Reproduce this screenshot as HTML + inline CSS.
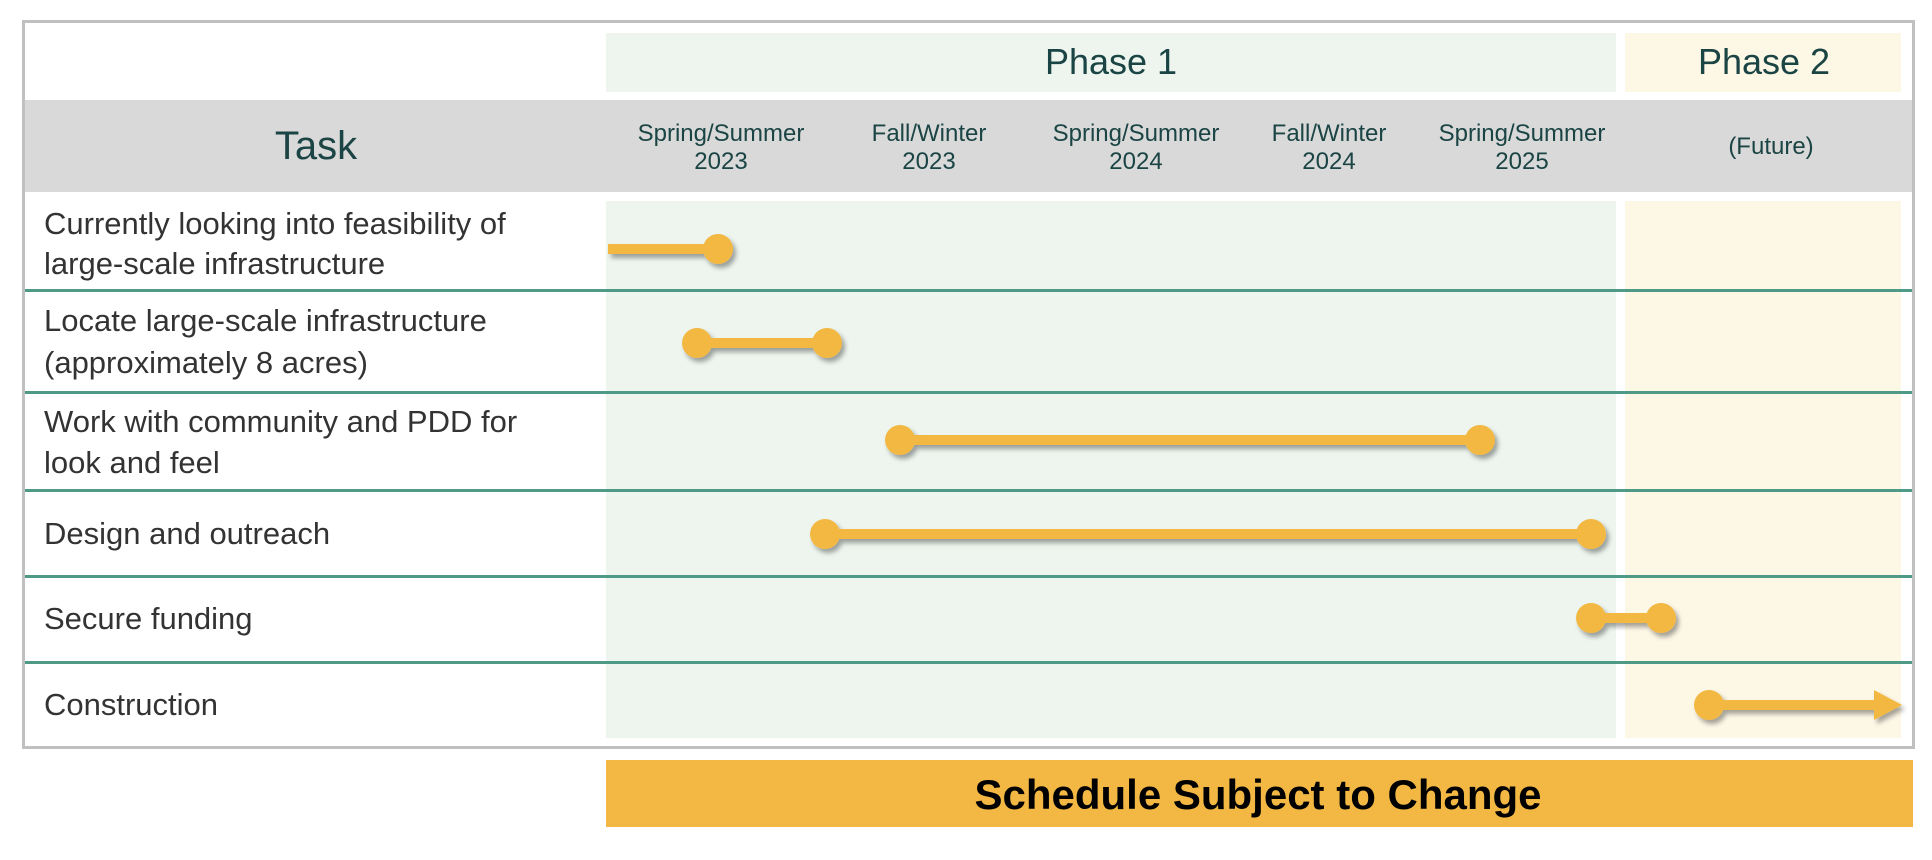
<!DOCTYPE html>
<html><head><meta charset="utf-8"><style>
html,body{margin:0;padding:0;background:#fff;}
svg{display:block;}
text{font-family:"Liberation Sans",sans-serif;}
</style></head><body>
<svg width="1932" height="860" viewBox="0 0 1932 860" xmlns="http://www.w3.org/2000/svg">
<defs>
<filter id="sh" x="-20%" y="-50%" width="140%" height="250%">
<feDropShadow dx="3" dy="4" stdDeviation="2.5" flood-color="#000" flood-opacity="0.35"/>
</filter>
</defs>
<rect x="0" y="0" width="1932" height="860" fill="#fff"/>
<rect x="606" y="33" width="1010" height="59" fill="#edf5ee"/>
<rect x="1625" y="33" width="276" height="59" fill="#fdf7e6"/>
<text x="1111" y="74" font-size="36" fill="#1b4444" text-anchor="middle">Phase 1</text>
<text x="1764" y="74" font-size="36" fill="#1b4444" text-anchor="middle">Phase 2</text>
<rect x="22" y="100" width="1893" height="92" fill="#d9d9d9"/>
<text x="316" y="159" font-size="40" fill="#1b4444" text-anchor="middle">Task</text>
<g font-size="24" fill="#1b4444" text-anchor="middle">
<text x="721" y="141">Spring/Summer</text><text x="721" y="169">2023</text>
<text x="929" y="141">Fall/Winter</text><text x="929" y="169">2023</text>
<text x="1136" y="141">Spring/Summer</text><text x="1136" y="169">2024</text>
<text x="1329" y="141">Fall/Winter</text><text x="1329" y="169">2024</text>
<text x="1522" y="141">Spring/Summer</text><text x="1522" y="169">2025</text>
<text x="1771" y="154">(Future)</text>
</g>
<rect x="606" y="201" width="1010" height="537" fill="#edf5ee"/>
<rect x="1625" y="201" width="276" height="537" fill="#fdf7e6"/>
<g fill="#4e9a86">
<rect x="22" y="289" width="1893" height="3"/>
<rect x="22" y="391" width="1893" height="3"/>
<rect x="22" y="489" width="1893" height="3"/>
<rect x="22" y="575" width="1893" height="3"/>
<rect x="22" y="661" width="1893" height="3"/>
</g>
<rect x="23.5" y="21.5" width="1890" height="726" fill="none" stroke="#c0c0c0" stroke-width="3"/>
<g font-size="31" fill="#333">
<text x="44" y="234">Currently looking into feasibility of</text>
<text x="44" y="274">large-scale infrastructure</text>
<text x="44" y="331">Locate large-scale infrastructure</text>
<text x="44" y="373">(approximately 8 acres)</text>
<text x="44" y="432">Work with community and PDD for</text>
<text x="44" y="473">look and feel</text>
<text x="44" y="544">Design and outreach</text>
<text x="44" y="629">Secure funding</text>
<text x="44" y="715">Construction</text>
</g>
<g fill="#f2b843" filter="url(#sh)">
<rect x="608" y="244" width="112" height="10"/><ellipse cx="718" cy="249" rx="15" ry="15"/>
</g>
<g fill="#f2b843" filter="url(#sh)">
<rect x="697" y="338" width="130" height="10"/><ellipse cx="697" cy="343" rx="15" ry="15"/><ellipse cx="827" cy="343" rx="15" ry="15"/>
</g>
<g fill="#f2b843" filter="url(#sh)">
<rect x="900" y="435" width="580" height="10"/><ellipse cx="900" cy="440" rx="15" ry="15"/><ellipse cx="1480" cy="440" rx="15" ry="15"/>
</g>
<g fill="#f2b843" filter="url(#sh)">
<rect x="825" y="529" width="766" height="10"/><ellipse cx="825" cy="534" rx="15" ry="15"/><ellipse cx="1591" cy="534" rx="15" ry="15"/>
</g>
<g fill="#f2b843" filter="url(#sh)">
<rect x="1591" y="613" width="70" height="10"/><ellipse cx="1591" cy="618" rx="15" ry="15"/><ellipse cx="1661" cy="618" rx="15" ry="15"/>
</g>
<g fill="#f2b843" filter="url(#sh)">
<rect x="1709" y="700" width="170" height="10"/><ellipse cx="1709" cy="705" rx="15" ry="15"/><polygon points="1874,690 1902,705 1874,720"/>
</g>
<rect x="606" y="760" width="1307" height="67" fill="#f2b843"/>
<text x="1258" y="809" font-size="42" font-weight="bold" fill="#000" text-anchor="middle">Schedule Subject to Change</text>
</svg>
</body></html>
